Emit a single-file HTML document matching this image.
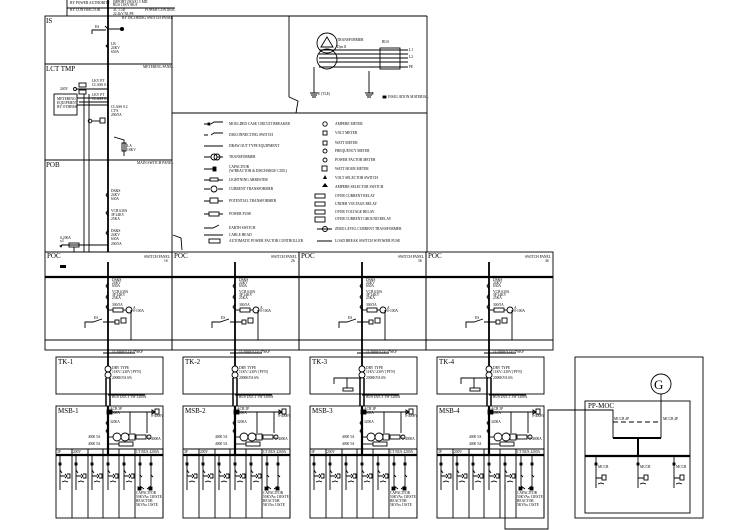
<!DOCTYPE html>
<html><head><meta charset="utf-8"><style>
html,body{margin:0;padding:0;background:#fff;}
svg{display:block;}
text{font-family:"Liberation Serif",serif;fill:#000;}
.s{font-size:3.6px;}
.t{font-size:7px;}
</style></head><body>
<svg width="749" height="530" viewBox="0 0 749 530" xmlns="http://www.w3.org/2000/svg">
<defs>
<g id="poc" fill="none" stroke="#000" stroke-width="0.9">
 <rect x="0" y="252" width="127" height="98"/>
 <line x1="0" y1="277" x2="127" y2="277" stroke-width="2.2"/>
 <line x1="0" y1="340" x2="127" y2="340"/>
 <line x1="63" y1="262" x2="63" y2="350" stroke-width="1.8"/>
 <path d="M63 283 l-2 3 l2 3 M63 294 l-2 3 l2 3 M63 304 l-2 3 l2 3"/>
 <line x1="63" y1="310" x2="68" y2="310"/>
 <rect x="68" y="308" width="10" height="4"/>
 <line x1="78" y1="310" x2="81" y2="310"/>
 <circle cx="84" cy="310" r="3"/>
 <rect x="76" y="318" width="5" height="5"/>
 <line x1="86" y1="310" x2="86" y2="340"/>
 <path d="M40 328 v-6 h8 l9 -3 M58 322 h12"/>
 <rect x="70" y="320" width="4" height="4"/>
</g>
<g id="tk" fill="none" stroke="#000" stroke-width="0.9">
 <rect x="11" y="357" width="107" height="37"/>
 <line x1="63" y1="350" x2="63" y2="366" stroke-width="1.8"/>
 <line x1="58" y1="353" x2="90" y2="353"/>
 <circle cx="63" cy="369" r="3"/><circle cx="63" cy="375" r="3"/>
 <line x1="61" y1="378" x2="61" y2="406" stroke-width="1.5"/>
 <line x1="65" y1="378" x2="65" y2="406" stroke-width="1.5"/>
 <line x1="63" y1="395" x2="100" y2="395"/>
</g>
<g id="tkx" fill="none" stroke="#000" stroke-width="0.9">
 <path d="M35 384 V378 H63 M48 378 V388"/>
 <rect x="44" y="388" width="10" height="3"/>
</g>
<g id="msb" fill="none" stroke="#000" stroke-width="0.9">
 <rect x="11" y="406" width="107" height="112"/>
 <line x1="63" y1="406" x2="63" y2="455" stroke-width="2.2"/>
 <rect x="62" y="410" width="5" height="4" fill="#000"/>
 <line x1="63" y1="412" x2="110" y2="412"/>
 <path d="M107 410 l3 2 l-3 2 z"/><rect x="110" y="409" width="4" height="5"/>
 <path d="M63 420 l-2 3 l2 3 M63 428 l-2 3 l2 3"/>
 <line x1="85" y1="412" x2="85" y2="433"/>
 <line x1="102" y1="412" x2="102" y2="433"/>
 <line x1="63" y1="437" x2="68" y2="437"/>
 <circle cx="72" cy="437" r="4"/><circle cx="80" cy="437" r="4"/>
 <rect x="84" y="434" width="6" height="6"/>
 <rect x="91" y="435" width="10" height="4"/>
 <circle cx="104" cy="437" r="2"/>
 <rect x="74" y="442" width="14" height="4"/>
 <line x1="63" y1="444" x2="74" y2="444"/>
 <line x1="11" y1="449" x2="118" y2="449"/>
 <line x1="11" y1="455" x2="118" y2="455" stroke-width="2.2"/>
 <path d="M27 449 V518 M43 449 V518 M58 449 V518 M74 449 V518 M90 449 V518 M118 449 V518"/>
 <path d="M15 455 V490 M31 455 V490 M47 455 V490 M63 455 V490 M79 455 V490"/>
 <path d="M15 470 l2 3 M31 470 l2 3 M47 470 l2 3 M63 470 l2 3 M79 470 l2 3"/>
 <path d="M15 476 h5 M31 476 h5 M47 476 h5 M63 476 h5 M79 476 h5"/>
 <path d="M20 474 l2 2 l-2 2 M36 474 l2 2 l-2 2 M52 474 l2 2 l-2 2 M68 474 l2 2 l-2 2 M84 474 l2 2 l-2 2"/>
 <path d="M22 474 h3 v4 h-3 M38 474 h3 v4 h-3 M54 474 h3 v4 h-3 M70 474 h3 v4 h-3 M86 474 h3 v4 h-3"/>
 <path d="M17 482 l3 -1 l3 1 M33 482 l3 -1 l3 1 M49 482 l3 -1 l3 1 M65 482 l3 -1 l3 1 M81 482 l3 -1 l3 1"/>
 <path d="M95 455 V486 M106 455 V486 M95 486 l4 3 M106 486 l-4 3"/>
 <path d="M95 475 l2 2 M106 475 l2 2"/>
 <rect x="93" y="487" width="3" height="3" fill="#000"/>
 <rect x="104" y="487" width="3" height="3" fill="#000"/>
 <rect x="14" y="463" width="2" height="2" fill="#000"/><rect x="30" y="463" width="2" height="2" fill="#000"/>
 <rect x="46" y="463" width="2" height="2" fill="#000"/><rect x="62" y="463" width="2" height="2" fill="#000"/>
 <rect x="78" y="463" width="2" height="2" fill="#000"/><rect x="94" y="463" width="2" height="2" fill="#000"/>
 <rect x="105" y="463" width="2" height="2" fill="#000"/>
</g>
</defs>

<g fill="none" stroke="#000" stroke-width="0.9">
 <line x1="67" y1="0" x2="67" y2="16"/>
 <line x1="108" y1="0" x2="108" y2="252" stroke-width="1.8"/>
 <line x1="67" y1="8" x2="175" y2="8"/>
 <rect x="45" y="16" width="127" height="236"/>
 <line x1="45" y1="64" x2="172" y2="64"/>
 <line x1="45" y1="160" x2="172" y2="160"/>
 <line x1="289" y1="16" x2="289" y2="97"/>
 <path d="M289 97 l9 4 l-2 12"/>
 <line x1="172" y1="16" x2="427" y2="16"/>
 <line x1="427" y1="16" x2="427" y2="252"/>
 <line x1="172" y1="113" x2="427" y2="113"/>
 <path d="M173 235 l8 3 l1 12"/>
 <path d="M92 34 v-4 h14 M108 29 l-3 -3 M108 29 h14"/>
 <circle cx="122" cy="29" r="1.6" fill="#000"/>
 <path d="M108 44 l-2 2 l2 2"/>
 <rect x="79" y="83" width="7" height="4"/><rect x="79" y="90" width="7" height="4"/>
 <path d="M76 89 h32 M79 102 h29"/>
 <rect x="54" y="94" width="23" height="21"/>
 <path d="M77 98 h31 M77 105 h31"/>
 <circle cx="75" cy="89" r="1.5"/>
 <line x1="84" y1="94" x2="84" y2="252"/>
 <line x1="89" y1="94" x2="89" y2="252"/>
 <circle cx="90" cy="121" r="1.8"/><rect x="100" y="118" width="5" height="5"/>
 <path d="M92 121 h8"/>
 <path d="M114 137 l10 3 v16"/><rect x="122" y="143" width="4" height="8"/>
 <path d="M108 192 l-2 3 l2 3 M108 210 l-2 3 l2 3 M108 230 l-2 3 l2 3"/>
 <path d="M62 245 h46"/><rect x="69" y="243" width="10" height="4"/>
 <path d="M62 245 l-2 1 l1 1 z"/>
 <line x1="74" y1="247" x2="74" y2="252"/>
 <circle cx="327" cy="43" r="10"/><circle cx="327" cy="59" r="10"/>
 <path d="M321 47 l6 -10 l6 10 z"/>
 <path d="M319 50 h89 M319 54 h89 M319 58 h89 M319 62 h89 M319 67 h89"/>
 <rect x="380" y="48" width="20" height="21"/>
 <path d="M314 67 v26 M310 93 h8 M311 95 h6 M312 97 h4"/>
 <path d="M369 71 v22 M365 93 h8 M366 95 h6 M367 97 h4"/>
 <rect x="383" y="96" width="3" height="2" fill="#000"/>
 <rect x="575" y="357" width="128" height="161"/>
 <rect x="585" y="401" width="105" height="112"/>
 <circle cx="661" cy="384" r="10"/>
 <path d="M661 394 V422 M613 422 V438 M661 422 V438"/>
 <line x1="613" y1="422" x2="661" y2="422" stroke-dasharray="5 3"/>
 <path d="M613 438 H661 M638 438 V456" stroke-width="2"/>
 <line x1="585" y1="456" x2="690" y2="456" stroke-width="2.2"/>
 <path d="M596 456 V488 M638 456 V488 M674 456 V488"/>
 <path d="M596 478 h6 M638 478 h6 M674 478 h6"/>
 <rect x="602" y="475" width="4" height="5"/><rect x="644" y="475" width="4" height="5"/><rect x="680" y="475" width="4" height="5"/>
 <path d="M598 484 l3 -1 l3 1 M640 484 l3 -1 l3 1 M676 484 l3 -1 l3 1"/>
 <rect x="595" y="463" width="2" height="2" fill="#000"/><rect x="637" y="463" width="2" height="2" fill="#000"/><rect x="673" y="463" width="2" height="2" fill="#000"/>
 <path d="M505 485 V529 H548 V410 H613 V422"/>
 <path d="M204 124 h4 M211 124 l3 -2 h9 M204 135 h4 M211 135 l3 -2 h9 M204 146 h19 M204 157 h7 M217 157 h6 M204 169 h9 M204 180 h6 M218 180 h5 M204 189 h6 M218 189 h5 M204 201 h6 M218 201 h5 M204 214 h5 M219 214 h4 M204 228 h9 l6 -3 M204 235 h19"/>
 <rect x="208" y="123" width="2" height="2" fill="#000"/>
 <circle cx="214" cy="157" r="3"/><circle cx="217" cy="157" r="3"/>
 <rect x="213" y="167" width="3" height="4" fill="#000"/>
 <rect x="210" y="178" width="8" height="3"/><circle cx="214" cy="189" r="3"/>
 <rect x="210" y="198" width="8" height="5"/><rect x="209" y="212" width="10" height="4"/>
 <rect x="209" y="239" width="11" height="4"/>
 <circle cx="325" cy="124" r="2.2"/><rect x="323" y="131" width="4" height="4"/><rect x="323" y="141" width="4" height="4"/>
 <circle cx="325" cy="151" r="2"/><circle cx="325" cy="160" r="2"/><rect x="322" y="166" width="5" height="5"/>
 <rect x="315" y="194" width="10" height="4"/><rect x="315" y="202" width="10" height="4"/>
 <rect x="315" y="210" width="10" height="4"/><rect x="315" y="217" width="10" height="5"/>
 <path d="M317 229 h15 M317 241 h15"/><circle cx="325" cy="229" r="2.5"/>
</g>
<path d="M322 187 l3 -4 l3 4 z M323 179 l2 -4 l2 4 z" fill="#000"/>

<use href="#poc" x="45"/><use href="#poc" x="172"/><use href="#poc" x="299"/><use href="#poc" x="426"/>
<use href="#tk" x="45"/><use href="#tk" x="172"/><use href="#tk" x="299"/><use href="#tk" x="426"/>
<use href="#tkx" x="299"/><use href="#tkx" x="426"/>
<use href="#msb" x="45"/><use href="#msb" x="172"/><use href="#msb" x="299"/><use href="#msb" x="426"/>
<rect x="60" y="265" width="6" height="3" fill="#000"/>

<g class="s">
 <text x="70" y="4">BY POWER AUTHORITY</text><text x="113" y="3">IMPORT (MAX) 5 MD</text><text x="113" y="6">BUS 11KV 8KA</text>
 <text x="70" y="11">BY CONTRACTOR</text><text x="113" y="11">3C 1.5D</text><text x="145" y="11">POWER CONTROL</text>
 <text x="113" y="15">22.2kV/XLPE</text><text x="122" y="19">BY INCOMING SWITCH PANEL</text>
 <text x="95" y="28">ES</text><text x="111" y="45">LB</text><text x="111" y="49">24KV</text><text x="111" y="53">630A</text>
 <text x="143" y="68">METERING PANEL</text>
 <text x="92" y="82">LKV PT</text><text x="92" y="86">CLASS 0.5</text><text x="60" y="90">240V</text>
 <text x="92" y="96">LKV PT</text><text x="92" y="100">CLASS 0.5</text>
 <text x="57" y="100">METERING</text><text x="57" y="104">EQUIPMENT</text><text x="57" y="108">BY OTHERS</text>
 <text x="111" y="108">CLASS 0.2</text><text x="111" y="112">CT'S</text><text x="111" y="116">200/5A</text>
 <text x="127" y="147">LA</text><text x="127" y="151">18KV</text>
 <text x="137" y="164">MAIN SWITCH PANEL</text>
 <text x="111" y="192">DS&amp;S</text><text x="111" y="196">24KV</text><text x="111" y="200">630A</text>
 <text x="111" y="212">VCB 630A</text><text x="111" y="216">3P 24KV</text><text x="111" y="220">25KA</text>
 <text x="111" y="232">DS&amp;S</text><text x="111" y="236">24KV</text><text x="111" y="240">630A</text>
 <text x="60" y="239">S.200A</text><text x="60" y="242">x3</text><text x="111" y="245">200/5A</text>
</g>
<g class="s">
 <text x="229" y="125">MOULDED CASE CIRCUIT BREAKER</text><text x="229" y="136">DISCONNECTING SWITCH</text>
 <text x="229" y="147">DRAW OUT TYPE EQUIPMENT</text><text x="229" y="158">TRANSFORMER</text>
 <text x="229" y="168">CAPACITOR</text><text x="229" y="172">(W/REACTOR &amp; DISCHARGE COIL)</text>
 <text x="229" y="181">LIGHTNING ARRESTER</text><text x="229" y="190">CURRENT TRANSFORMER</text>
 <text x="229" y="202">POTENTIAL TRANSFORMER</text><text x="229" y="215">POWER FUSE</text>
 <text x="229" y="229">EARTH SWITCH</text><text x="229" y="236">CABLE HEAD</text>
 <text x="229" y="242">AUTOMATIC POWER FACTOR CONTROLLER</text>
 <text x="335" y="125">AMPERE METER</text><text x="335" y="134">VOLT METER</text><text x="335" y="144">WATT METER</text>
 <text x="335" y="152">FREQUENCY METER</text><text x="335" y="161">POWER FACTOR METER</text><text x="335" y="170">WATT HOUR METER</text>
 <text x="335" y="179">VOLT SELECTOR SWITCH</text><text x="335" y="188">AMPERE SELECTOR SWITCH</text>
 <text x="335" y="197">OVER CURRENT RELAY</text><text x="335" y="205">UNDER VOLTAGE RELAY</text>
 <text x="335" y="213">OVER VOLTAGE RELAY</text><text x="335" y="220">OVER CURRENT GROUND RELAY</text>
 <text x="335" y="230">ZERO LEVEL CURRENT TRANSFORMER</text><text x="335" y="242">LOAD BREAK SWITCH W/POWER FUSE</text>
 <text x="337" y="41">TRANSFORMER</text><text x="337" y="48">Dyn11</text><text x="382" y="43">BUS</text>
 <text x="318" y="95">E (TLE)</text><text x="372" y="95">E</text><text x="388" y="98">INSULATION MATERIAL</text>
 <text x="409" y="51">L1</text><text x="409" y="58">L2</text><text x="409" y="68">PE</text>
</g>
<g class="t"><text x="46" y="23">IS</text><text x="46" y="71">LCT   TMP</text><text x="46" y="167">POB</text></g>

<g class="t">
 <text x="47" y="258">POC</text><text x="174" y="258">POC</text><text x="301" y="258">POC</text><text x="428" y="258">POC</text>
 <text x="58" y="364">TK-1</text><text x="185" y="364">TK-2</text><text x="312" y="364">TK-3</text><text x="439" y="364">TK-4</text>
 <text x="58" y="413">MSB-1</text><text x="185" y="413">MSB-2</text><text x="312" y="413">MSB-3</text><text x="439" y="413">MSB-4</text>
 <text x="588" y="408">PP-MOC</text>
</g>
<text x="654" y="389" style="font-size:13px">G</text>
<g class="s">
 <text x="144" y="258">SWITCH PANEL</text><text x="164" y="262">1S</text>
 <text x="271" y="258">SWITCH PANEL</text><text x="291" y="262">2S</text>
 <text x="398" y="258">SWITCH PANEL</text><text x="418" y="262">3S</text>
 <text x="525" y="258">SWITCH PANEL</text><text x="545" y="262">4S</text>
</g>
<g class="s" id="colt1">
 <text x="112" y="281">DS&amp;S</text><text x="112" y="284">24KV</text><text x="112" y="287">630A</text>
 <text x="112" y="293">VCB 630A</text><text x="112" y="296">3P 24KV</text><text x="112" y="299">25KA</text>
 <text x="112" y="306">300/5A</text><text x="133" y="309">A</text><text x="133" y="312">0-100A</text>
 <text x="94" y="319">ES</text>
 <text x="112" y="353">11/2000-Y1V-3*SKP</text>
 <text x="112" y="369">DRY TYPE</text><text x="112" y="373">11KV/.230V [PYN]</text><text x="112" y="379">2000KVA   6%</text>
 <text x="112" y="398">BUS DUCT 3W 3200A</text>
 <text x="110" y="410">ACB 3P</text><text x="110" y="414">4000A</text><text x="110" y="423">3200A</text>
 <text x="151" y="417">0-4000V</text><text x="88" y="438">4000  5A</text><text x="88" y="445">4000  5A</text>
 <text x="148" y="440">0-4000A</text>
 <text x="57" y="453">3P</text><text x="73" y="453">200V</text><text x="136" y="453">CT BUS 4200A</text>
 <text x="136" y="494">CAPACITOR</text><text x="136" y="498">50KVAx 13ESTE</text><text x="136" y="502">REACTOR</text><text x="136" y="506">5KVAx 13STE</text>
</g>
<use href="#colt1" x="127"/><use href="#colt1" x="254"/><use href="#colt1" x="381"/>
<g class="s"><text x="614" y="420">MCCB 4P</text><text x="663" y="420">MCCB 4P</text>
<text x="598" y="468">MCCB</text><text x="640" y="468">MCCB</text><text x="676" y="468">MCCB</text></g>
</svg>
</body></html>
